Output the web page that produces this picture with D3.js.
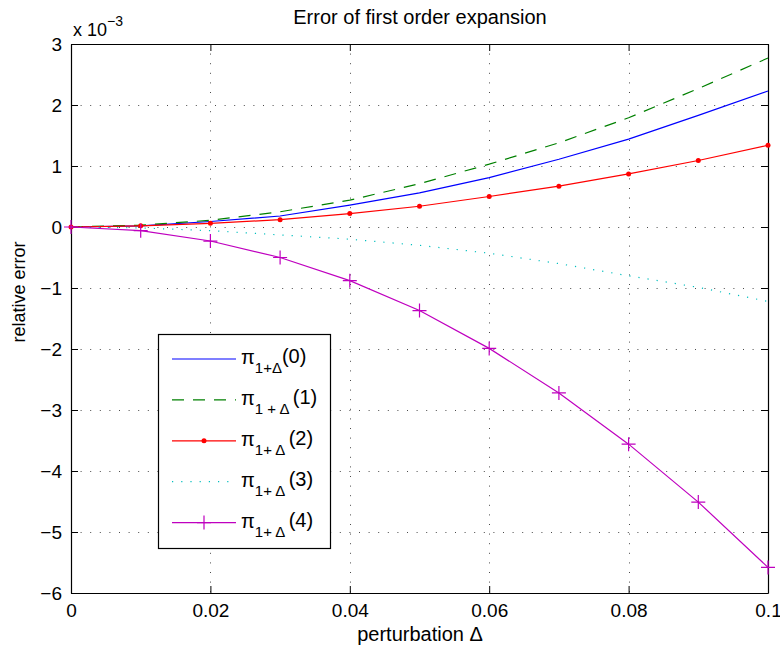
<!DOCTYPE html>
<html>
<head>
<meta charset="utf-8">
<script src="https://cdn.jsdelivr.net/npm/d3@7"></script>
<style>
  body { margin: 0; background: #fff; }
  svg { font-family: "Liberation Sans", Arial, sans-serif; }
  .axis text { font-size: 19px; fill: #000; }
  text { white-space: pre; }
</style>
</head>
<body>
<svg id="chart" width="780" height="648"></svg>
<script>
// x values (perturbation delta)
const deltas = [0, 0.01, 0.02, 0.03, 0.04, 0.05, 0.06, 0.07, 0.08, 0.09, 0.1];
// relative error, in units of 1e-3
const err0 = [0, 0.02, 0.09, 0.18, 0.36, 0.56, 0.81, 1.11, 1.44, 1.83, 2.23];
const err1 = [0, 0.03, 0.11, 0.25, 0.44, 0.71, 1.03, 1.38, 1.79, 2.27, 2.77];
const err2 = [0, 0.02, 0.06, 0.12, 0.22, 0.34, 0.50, 0.67, 0.87, 1.09, 1.34];
const err3 = [0, -0.015, -0.06, -0.13, -0.2, -0.3, -0.43, -0.6, -0.8, -0.99, -1.22];
const err4 = [0, -0.06, -0.23, -0.5, -0.88, -1.37, -1.99, -2.72, -3.56, -4.51, -5.58];
const xTicks = [0, 0.02, 0.04, 0.06, 0.08, 0.1];
const yTicks = [-6, -5, -4, -3, -2, -1, 0, 1, 2, 3];
const legendSubs = ["1+\u0394", "1 + \u0394 ", "1+ \u0394 ", "1+ \u0394 ", "1+ \u0394 "];

const series = [
  {values: err0, color: "#0000ff", dash: null, marker: null, label: "(0)", sub: legendSubs[0]},
  {values: err1, color: "#008000", dash: "12,9", marker: null, label: "(1)", sub: legendSubs[1]},
  {values: err2, color: "#ff0000", dash: null, marker: "dot", label: "(2)", sub: legendSubs[2]},
  {values: err3, color: "#00bfbf", dash: "1.2,8", marker: null, label: "(3)", sub: legendSubs[3]},
  {values: err4, color: "#bf00bf", dash: null, marker: "plus", label: "(4)", sub: legendSubs[4]}
];

const margin = {left: 71, right: 12, top: 44, bottom: 55};
const width = 780, height = 648;
const svg = d3.select("#chart");

const x = d3.scaleLinear().domain([0, 0.1]).range([margin.left, width - margin.right]);
const y = d3.scaleLinear().domain([-6, 3]).range([height - margin.bottom, margin.top]);

// grid
const grid = svg.append("g").attr("stroke", "#000").attr("stroke-width", 1)
  .attr("stroke-dasharray", "1,8.6").attr("opacity", 0.7);
grid.selectAll(".gx").data(xTicks.slice(1, -1)).join("line")
  .attr("x1", d => Math.round(x(d)) + 0.5).attr("x2", d => Math.round(x(d)) + 0.5)
  .attr("y1", y(3)).attr("y2", y(-6));
grid.selectAll(".gy").data(yTicks.slice(1, -1)).join("line")
  .attr("y1", d => Math.round(y(d)) + 0.5).attr("y2", d => Math.round(y(d)) + 0.5)
  .attr("x1", x(0)).attr("x2", x(0.1));

// axes (ticks inside, mirrored)
const fmtX = d => d === 0 ? "0" : String(+d.toFixed(2));
const fmtY = d => d < 0 ? "\u2212" + Math.abs(d) : String(d);
svg.append("g").attr("class", "axis")
  .attr("transform", `translate(0,${y(-6)})`)
  .call(d3.axisBottom(x).tickValues(xTicks).tickFormat(fmtX).tickSizeInner(-7).tickSizeOuter(0).tickPadding(11));
svg.append("g").attr("class", "axis")
  .attr("transform", `translate(0,${y(3)})`)
  .call(d3.axisTop(x).tickValues(xTicks).tickFormat("").tickSizeInner(-7).tickSizeOuter(0));
svg.append("g").attr("class", "axis")
  .attr("transform", `translate(${x(0)},0)`)
  .call(d3.axisLeft(y).tickValues(yTicks).tickFormat(fmtY).tickSizeInner(-7).tickSizeOuter(0).tickPadding(9));
svg.append("g").attr("class", "axis")
  .attr("transform", `translate(${x(0.1)},0)`)
  .call(d3.axisRight(y).tickValues(yTicks).tickFormat("").tickSizeInner(-7).tickSizeOuter(0));
svg.selectAll(".axis path, .axis line").attr("stroke", "#000");
svg.selectAll(".axis .domain").attr("stroke-width", 1.2);

// lines
const line = d3.line().x((d, i) => x(deltas[i])).y(d => y(d));
series.forEach(s => {
  svg.append("path").datum(s.values)
    .attr("fill", "none").attr("stroke", s.color).attr("stroke-width", 1.2)
    .attr("stroke-dasharray", s.dash).attr("d", line);
  if (s.marker === "dot") {
    svg.append("g").selectAll("circle").data(s.values).join("circle")
      .attr("cx", (d, i) => x(deltas[i])).attr("cy", d => y(d)).attr("r", 2.5).attr("fill", s.color);
  } else if (s.marker === "plus") {
    svg.append("g").selectAll("path").data(s.values).join("path")
      .attr("d", (d, i) => { const cx = x(deltas[i]), cy = y(d);
        return `M${cx - 7},${cy}H${cx + 7}M${cx},${cy - 7}V${cy + 7}`; })
      .attr("stroke", s.color).attr("stroke-width", 1.2).attr("fill", "none");
  }
});

// legend
const lg = svg.append("g");
lg.append("rect").attr("x", 158.5).attr("y", 334.5).attr("width", 172).attr("height", 214)
  .attr("fill", "#fff").attr("stroke", "#000").attr("stroke-width", 1.2);
series.forEach((s, i) => {
  const ly = 359 + i * 40.9;
  lg.append("line").attr("x1", 172).attr("x2", 236).attr("y1", ly).attr("y2", ly)
    .attr("stroke", s.color).attr("stroke-width", 1.2).attr("stroke-dasharray", s.dash);
  if (s.marker === "dot") lg.append("circle").attr("cx", 204).attr("cy", ly).attr("r", 2.5).attr("fill", s.color);
  if (s.marker === "plus") lg.append("path").attr("d", `M197,${ly}H211M204,${ly - 7}V${ly + 7}`)
    .attr("stroke", s.color).attr("stroke-width", 1.2);
  const t = lg.append("text").attr("x", 241).attr("y", ly + 5).attr("font-size", 20);
  t.append("tspan").text("\u03c0");
  t.append("tspan").attr("dy", 9).attr("font-size", 15).text(s.sub);
  t.append("tspan").attr("dy", -10).text(s.label);
});

// title and labels
svg.append("text").attr("x", 420).attr("y", 24).attr("text-anchor", "middle")
  .attr("font-size", 20).text("Error of first order expansion");
const ex = svg.append("text").attr("x", 73).attr("y", 36).attr("font-size", 18);
ex.append("tspan").text("x 10");
ex.append("tspan").attr("dy", -10).attr("font-size", 14).text("\u22123");
svg.append("text").attr("x", 420).attr("y", 641).attr("text-anchor", "middle")
  .attr("font-size", 20).text("perturbation \u0394");
svg.append("text").attr("transform", "translate(25,292) rotate(-90)").attr("text-anchor", "middle")
  .attr("font-size", 18).text("relative error");
</script>
</body>
</html>
